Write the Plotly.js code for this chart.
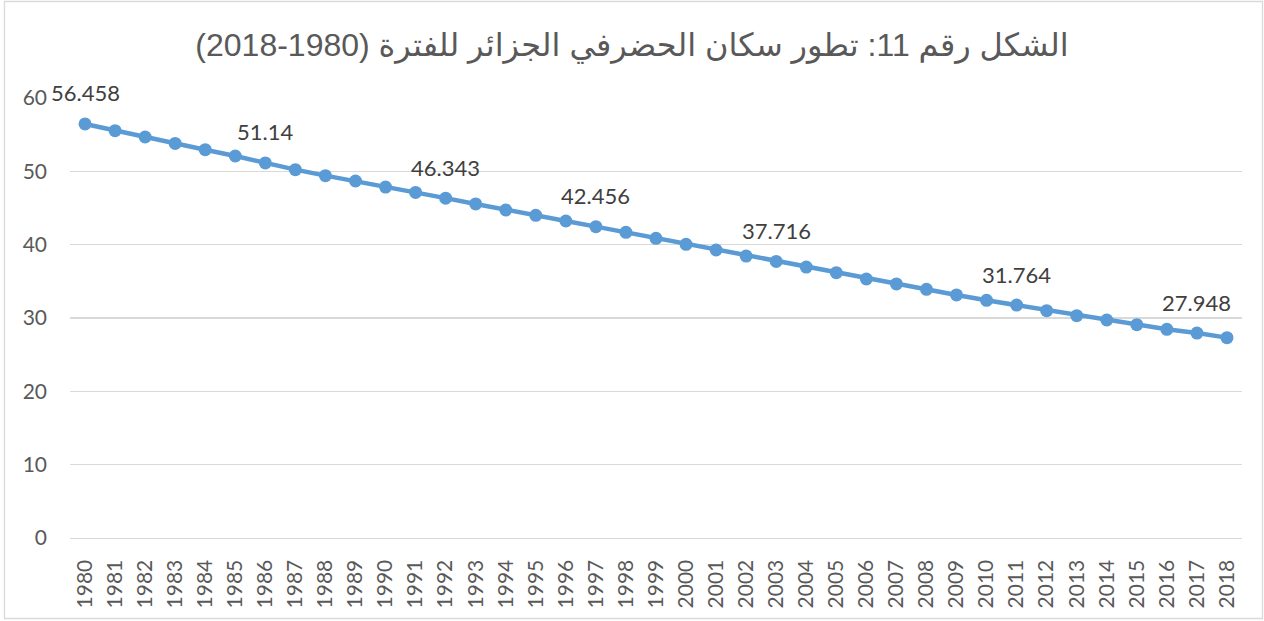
<!DOCTYPE html>
<html>
<head>
<meta charset="utf-8">
<script src="https://cdn.plot.ly/plotly-3.0.1.min.js"></script>
<style>
  html, body { margin: 0; padding: 0; background: #ffffff; }
  #chart { width: 1264px; height: 621px; }
</style>
</head>
<body>
<div id="chart"></div>
<script>
// Chart data
const years = ['1980','1981','1982','1983','1984','1985','1986','1987','1988','1989',
  '1990','1991','1992','1993','1994','1995','1996','1997','1998','1999',
  '2000','2001','2002','2003','2004','2005','2006','2007','2008','2009',
  '2010','2011','2012','2013','2014','2015','2016','2017','2018'];
const urbanShare = [56.458, 55.55, 54.68, 53.80, 52.95, 52.09, 51.14, 50.23, 49.41, 48.68,
  47.86, 47.12, 46.343, 45.55, 44.73, 44.00, 43.23, 42.456, 41.68, 40.87,
  40.05, 39.27, 38.45, 37.716, 36.95, 36.18, 35.32, 34.64, 33.91, 33.14,
  32.41, 31.764, 31.00, 30.32, 29.73, 29.09, 28.46, 27.948, 27.32];
const labelYears = ['1980','1986','1992','1997','2003','2011','2017'];
const yTickVals = [0, 10, 20, 30, 40, 50, 60];
const titleText = '\u202B' + 'الشكل رقم 11: تطور سكان الحضرفي الجزائر للفترة (1980\u200F-2018)' + '\u202C';

const blue = '#5B9BD5';
const grid = '#D9D9D9';
const tickFont = { family: 'Lato, "Open Sans", sans-serif', size: 21, color: '#595959' };

// category axes take the category index for annotation positions
const annotations = labelYears.map(function (yr) {
  const i = years.indexOf(yr);
  return {
    x: i, y: urbanShare[i], xref: 'x', yref: 'y',
    text: String(urbanShare[i]), showarrow: false,
    xanchor: 'center', yanchor: 'middle', yshift: 31,
    font: { family: 'Lato, "Open Sans", sans-serif', size: 22, color: '#404040' }
  };
});

const trace = {
  type: 'scatter', mode: 'lines+markers',
  x: years, y: urbanShare,
  line: { color: blue, width: 4.5 },
  marker: { color: blue, size: 13 },
  hoverinfo: 'x+y'
};

const layout = {
  width: 1264, height: 621,
  margin: { l: 70, r: 22, t: 98, b: 83 },
  paper_bgcolor: '#ffffff', plot_bgcolor: '#ffffff',
  showlegend: false,
  title: {
    text: titleText,
    font: { family: '"Liberation Sans", Arial, "DejaVu Sans", sans-serif', size: 32, color: '#595959' },
    x: 0.5, xanchor: 'center', xref: 'container',
    y: 1 - 45 / 621, yanchor: 'middle', yref: 'container'
  },
  xaxis: {
    type: 'category', categoryorder: 'array', categoryarray: years,
    range: [-0.5, years.length - 0.5], autorange: false,
    tickangle: -90, tickfont: tickFont,
    showgrid: false, showline: true, linecolor: grid, linewidth: 1.3,
    ticks: '', ticklabelstandoff: 12, zeroline: false, fixedrange: true
  },
  yaxis: {
    range: [0, 60], autorange: false, tickvals: yTickVals, ticktext: yTickVals.map(String),
    tickfont: tickFont, showgrid: true, gridcolor: grid, gridwidth: 1.3,
    zeroline: false, showline: false, ticks: '', ticklabelstandoff: 22,
    fixedrange: true
  },
  annotations: annotations,
  shapes: [{
    type: 'rect', xref: 'paper', yref: 'paper',
    x0: -0.0559, x1: 1.0175, y0: -0.183, y1: 1.2193,
    line: { color: grid, width: 1.3 }, fillcolor: 'rgba(0,0,0,0)', layer: 'below'
  }]
};

Plotly.newPlot('chart', [trace], layout, { displayModeBar: false, staticPlot: true });
</script>
</body>
</html>
